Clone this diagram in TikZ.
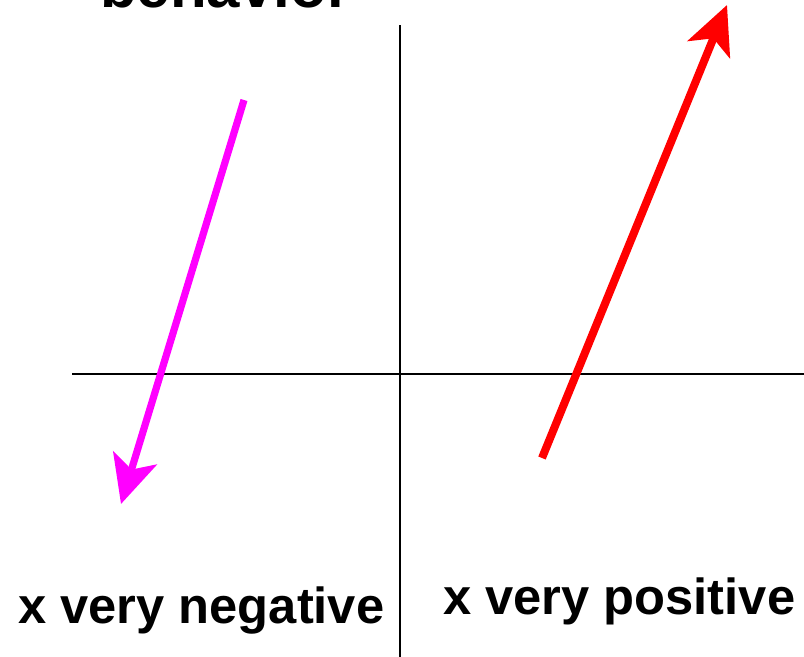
\documentclass[tikz,border=0pt]{standalone}
\usepackage{fontspec}
\setmainfont{Liberation Sans}
\usetikzlibrary{arrows.meta}
\definecolor{mag}{RGB}{255,0,255}
\definecolor{rd}{RGB}{255,0,0}
\tikzset{
  axis/.style={line width=1.6pt, black},
  bigarrow/.style={line width=5.4pt, -{Stealth[length=36pt, width=34pt, inset=9pt]}},
  lbl/.style={font=\bfseries\fontsize{38}{40}\selectfont, inner sep=0pt, anchor=base west}
}
\begin{document}
\begin{tikzpicture}[x=0.75pt, y=-0.75pt]
\useasboundingbox (0,0) rectangle (804,657);
\fill[white] (0,0) rectangle (804,657);
\begin{scope}
\clip (0,0) rectangle (804,657);
\node[lbl, font=\bfseries\fontsize{45}{48}\selectfont] (title) at (100,7) {behavior};
\end{scope}
\coordinate (vtop) at (400,25);
\coordinate (vbot) at (400,657);
\coordinate (hl) at (72,374);
\coordinate (hr) at (804,374);
\draw[axis] (vtop) -- (vbot);
\draw[axis] (hl) -- (hr);
\coordinate (ms) at (244,100);
\coordinate (me) at (121,504);
\coordinate (rs) at (542,458);
\coordinate (re) at (727,5);
\draw[bigarrow, mag] (ms) -- (me);
\draw[bigarrow, rd, line width=6pt] (rs) -- (re);
\node[lbl] (neg) at (18,623) {x very negative};
\node[lbl] (pos) at (443,614) {x very positive};
\end{tikzpicture}
\end{document}
